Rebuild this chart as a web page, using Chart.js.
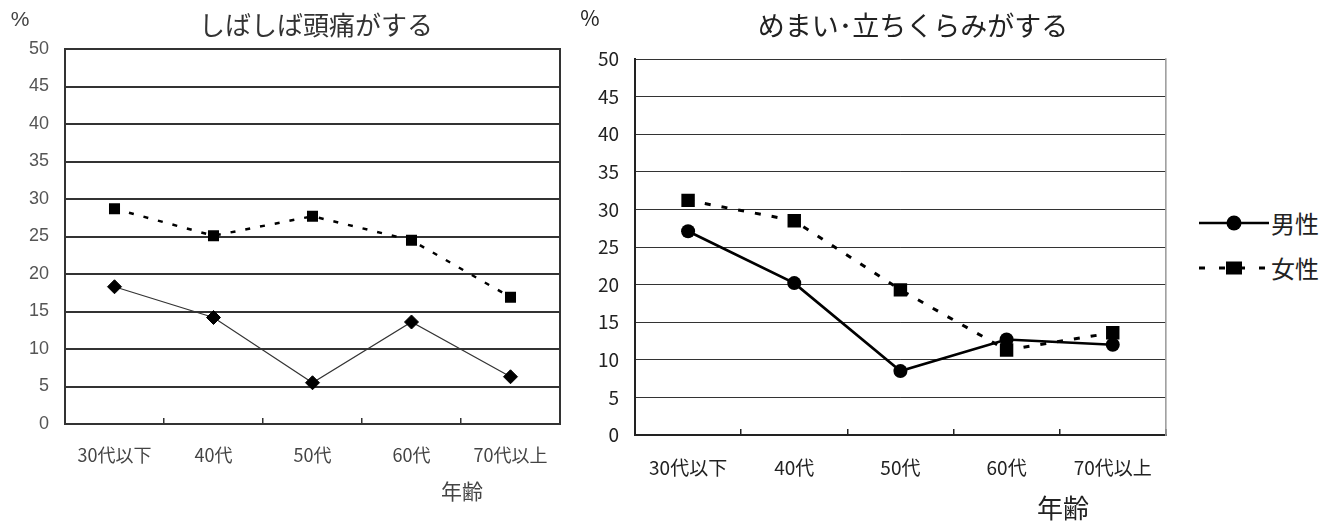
<!DOCTYPE html>
<html lang="ja">
<head>
<meta charset="utf-8">
<title>頭痛・めまい 年齢別</title>
<script src="https://cdn.jsdelivr.net/npm/chart.js@4/dist/chart.umd.min.js"></script>
<style>
  html, body { margin: 0; padding: 0; background: #fff; }
  #stage { position: relative; width: 1341px; height: 522px; overflow: hidden;
           font-family: "Noto Sans CJK JP", "Noto Sans", sans-serif; }
  #stage canvas { position: absolute; top: 0; }
  .lbl { position: absolute; transform: translate(-50%, -50%); white-space: nowrap; line-height: 1; }
  .legend-row { position: absolute; display: flex; align-items: center; transform: translateY(-50%); }
  .legend-row span { font-size: 24px; color: #222; line-height: 1; margin-left: 2px; }
</style>
</head>
<body>
<div id="stage">
  <canvas id="headache" width="580" height="522" style="left:0"></canvas>
  <canvas id="dizzy" width="600" height="522" style="left:580px"></canvas>

  <div class="lbl" style="left:20px;top:18px;font-size:21px;color:#444;font-family:'Liberation Sans',Arial,sans-serif">%</div>
  <div class="lbl" style="left:316px;top:24px;font-size:26px;color:#333">しばしば頭痛がする</div>
  <div class="lbl" style="left:462px;top:490px;font-size:21px;color:#444">年齢</div>

  <div class="lbl" style="left:590px;top:17px;font-size:21px;color:#222">%</div>
  <div class="lbl" style="left:913px;top:24px;font-size:27px;color:#222">めまい･立ちくらみがする</div>
  <div class="lbl" style="left:1063px;top:507px;font-size:26px;color:#222">年齢</div>

  <div class="legend-row" style="left:1199px;top:223px">
    <svg width="70" height="20" viewBox="0 0 70 20">
      <line x1="0" y1="10" x2="70" y2="10" stroke="#000" stroke-width="2.5"/>
      <circle cx="35" cy="10" r="7.5" fill="#000"/>
    </svg>
    <span>男性</span>
  </div>
  <div class="legend-row" style="left:1199px;top:268px">
    <svg width="70" height="20" viewBox="0 0 70 20">
      <line x1="0" y1="10" x2="70" y2="10" stroke="#000" stroke-width="3" stroke-dasharray="6 14"/>
      <rect x="27" y="3.5" width="16" height="13" fill="#000"/>
    </svg>
    <span>女性</span>
  </div>
</div>

<script>
// Age groups shared by both panels
const ageGroups = ['30代以下', '40代', '50代', '60代', '70代以上'];

// 「しばしば頭痛がする」 (%)
const headacheMen   = [18.3, 14.2, 5.5, 13.6, 6.3];
const headacheWomen = [28.7, 25.1, 27.7, 24.5, 16.9];

// 「めまい・立ちくらみがする」 (%)
const dizzyMen   = [27.1, 20.2, 8.5, 12.7, 12.0];
const dizzyWomen = [31.2, 28.5, 19.3, 11.3, 13.6];

// Value axis range and step
const yMin = 0;
const yMax = 50;
const yStep = 5;

const CJK = '"Noto Sans CJK JP", "Noto Sans", sans-serif';

// Closes the plot box on the right-hand side
const rightEdge = {
  id: 'rightEdge',
  beforeDatasetsDraw(chart, args, opts) {
    const { top, bottom, right } = chart.chartArea;
    const ctx = chart.ctx;
    ctx.save();
    ctx.strokeStyle = opts.color;
    ctx.lineWidth = opts.width;
    ctx.beginPath();
    ctx.moveTo(right, top - opts.width / 2);
    ctx.lineTo(right, bottom + 1);
    ctx.stroke();
    ctx.restore();
  }
};

function buildChart(id, s) {
  return new Chart(document.getElementById(id), {
    type: 'line',
    data: { labels: ageGroups, datasets: s.datasets },
    options: {
      responsive: false,
      animation: false,
      devicePixelRatio: 1,
      layout: { padding: { top: s.top, right: s.padRight, left: 0, bottom: 0 } },
      plugins: {
        legend: { display: false },
        tooltip: { enabled: false },
        rightEdge: { color: s.edgeColor, width: s.edgeWidth }
      },
      scales: {
        x: {
          offset: true,
          grid: { offset: true, drawOnChartArea: false, drawTicks: true, tickLength: -6,
                  color: s.axisColor, lineWidth: 1.5 },
          border: { display: true, color: s.axisColor, width: 2 },
          ticks: { color: s.xColor, font: { family: CJK, size: s.xSize }, padding: s.xPad,
                   maxRotation: 0, autoSkip: false },
          afterFit(scale) { scale.height = s.xHeight; }
        },
        y: {
          min: yMin, max: yMax,
          ticks: { stepSize: yStep, color: s.yColor, font: { family: s.yFamily, size: s.ySize },
                   padding: 16 },
          grid: { color: s.gridColor, lineWidth: s.gridWidth, drawTicks: false },
          border: { display: true, color: s.axisColor, width: 2 },
          afterFit(scale) { scale.width = s.yWidth; }
        }
      }
    },
    plugins: [rightEdge]
  });
}

buildChart('headache', {
  top: 49, padRight: 20, yWidth: 65, xHeight: 98, xPad: 26,
  axisColor: '#333', gridColor: '#333', gridWidth: 2,
  edgeColor: '#333', edgeWidth: 2,
  xColor: '#444', xSize: 18,
  yColor: '#555', ySize: 18, yFamily: '"Liberation Sans", Arial, sans-serif',
  datasets: [
    { label: '男性', data: headacheMen, borderColor: '#333', borderWidth: 1.2,
      pointStyle: 'rectRot', pointRadius: 7, pointBackgroundColor: '#000',
      pointBorderColor: '#000', pointBorderWidth: 1, tension: 0 },
    { label: '女性', data: headacheWomen, borderColor: '#000', borderWidth: 2.5,
      borderDash: [5, 10], pointStyle: 'rect', pointRadius: 7.8,
      pointBackgroundColor: '#000', pointBorderColor: '#000', pointBorderWidth: 0, tension: 0 }
  ]
});

buildChart('dizzy', {
  top: 59, padRight: 12, yWidth: 55, xHeight: 87, xPad: 27,
  axisColor: '#222', gridColor: '#333', gridWidth: 1,
  edgeColor: '#999', edgeWidth: 1.5,
  xColor: '#222', xSize: 19,
  yColor: '#222', ySize: 19, yFamily: CJK,
  datasets: [
    { label: '男性', data: dizzyMen, borderColor: '#000', borderWidth: 2.7,
      pointStyle: 'circle', pointRadius: 7, pointBackgroundColor: '#000',
      pointBorderColor: '#000', pointBorderWidth: 0, tension: 0 },
    { label: '女性', data: dizzyWomen, borderColor: '#000', borderWidth: 3,
      borderDash: [6, 11], pointStyle: 'rect', pointRadius: 9.5,
      pointBackgroundColor: '#000', pointBorderColor: '#000', pointBorderWidth: 0, tension: 0 }
  ]
});
</script>
</body>
</html>
